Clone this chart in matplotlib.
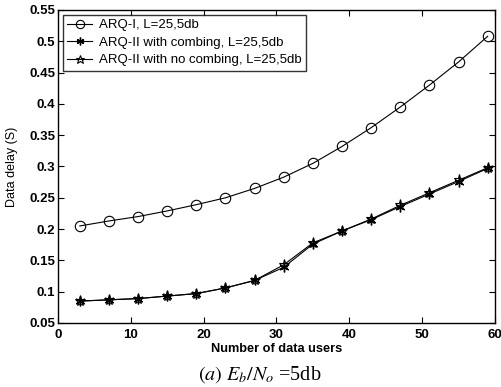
import numpy as np
import matplotlib
matplotlib.use('Agg')
import matplotlib.pyplot as plt

plt.rcParams['font.family'] = ['Liberation Sans', 'DejaVu Sans']
plt.rcParams['mathtext.fontset'] = 'stix'

# data
users = [3, 7, 11, 15, 19, 23, 27, 31, 35, 39, 43, 47, 51, 55, 59]
arq1 = [0.205, 0.213, 0.220, 0.229, 0.239, 0.250, 0.265, 0.283, 0.305,
        0.332, 0.362, 0.395, 0.430, 0.467, 0.508]
arq2_comb = [0.085, 0.087, 0.089, 0.093, 0.097, 0.106, 0.118, 0.139, 0.176,
             0.197, 0.215, 0.236, 0.256, 0.276, 0.297]
arq2_nocomb = [0.085, 0.087, 0.089, 0.093, 0.097, 0.106, 0.118, 0.143, 0.178,
               0.197, 0.216, 0.238, 0.258, 0.278, 0.298]
labels = ['ARQ-I, L=25,5db',
          'ARQ-II with combing, L=25,5db',
          'ARQ-II with no combing, L=25,5db']

fig = plt.figure(figsize=(5.02, 3.87), dpi=100)
ax = fig.add_axes([0.1155, 0.1654, 0.8705, 0.8088])

ax.plot(users, arq1, '-', color='k', lw=0.8, marker='o', ms=7.5,
        mfc='none', mec='k', mew=0.8, label=labels[0])
ax.plot(users, arq2_comb, '-', color='k', lw=0.8, marker=(6, 2, 0), ms=7,
        mec='k', mew=1.0, label=labels[1])
ax.plot(users, arq2_nocomb, '-', color='k', lw=0.8, marker='*', ms=8,
        mfc='none', mec='k', mew=0.8, label=labels[2])

ax.set_xlim(0, 60)
ax.set_ylim(0.05, 0.55)
ax.set_xticks(np.arange(0, 61, 10))
ax.set_yticks(np.arange(0.05, 0.551, 0.05))
ax.set_yticklabels(['0.05', '0.1', '0.15', '0.2', '0.25', '0.3',
                    '0.35', '0.4', '0.45', '0.5', '0.55'])
ax.tick_params(direction='in', top=True, right=True, length=4,
               labelsize=9.5, pad=2)
ax.tick_params(axis='x', pad=4)
for lbl in ax.get_xticklabels() + ax.get_yticklabels():
    lbl.set_fontweight('bold')
for s in ax.spines.values():
    s.set_linewidth(1.0)

ax.set_xlabel('Number of data users', fontsize=9.2, fontweight='bold', labelpad=2)
ax.set_ylabel('Data delay (S)', fontsize=9, labelpad=8)

leg = ax.legend(loc='upper left', fontsize=9.5, frameon=True, fancybox=False,
                edgecolor='k', handlelength=1.9, borderpad=0.35,
                labelspacing=0.4, handletextpad=0.5, markerscale=0.8,
                bbox_to_anchor=(0.0, 1.0), borderaxespad=0.35)
leg.get_frame().set_linewidth(1.0)

fig.text(0.518, 7 / 387, r'$(a)\ E_b/N_o$ =5db', ha='center', va='baseline',
         fontsize=14.5, family='Liberation Serif')
# clipped title at the top edge, only descenders visible
fig.text(53 / 502, 1 + 6 / 387, 'Average delay for data applications',
         ha='left', va='baseline', fontsize=20, family='Liberation Serif')

fig.savefig('out.png', dpi=100)
